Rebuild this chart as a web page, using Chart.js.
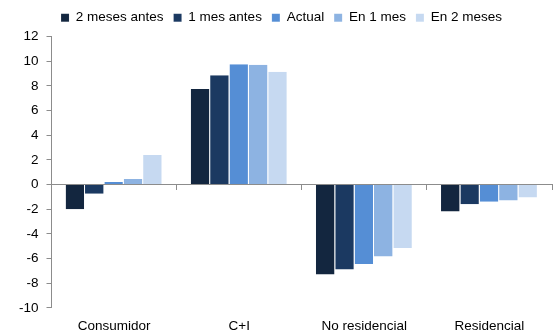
<!DOCTYPE html>
<html>
<head>
<meta charset="utf-8">
<script src="https://cdn.jsdelivr.net/npm/chart.js@4/dist/chart.umd.min.js"></script>
<style>
  html, body { margin: 0; padding: 0; background: #fff; }
  #wrap { width: 554px; height: 336px; }
</style>
</head>
<body>
<div id="wrap"><canvas id="c" width="554" height="336"></canvas></div>
<script>
// Categories and series
const categories = ['Consumidor', 'C+I', 'No residencial', 'Residencial'];
const seriesNames = ['2 meses antes', '1 mes antes', 'Actual', 'En 1 mes', 'En 2 meses'];
const dosMesesAntes = [-2.0, 7.75, -7.3, -2.2];
const unMesAntes    = [-0.75, 8.85, -6.9, -1.6];
const actual        = [0.2, 9.75, -6.45, -1.4];
const enUnMes       = [0.45, 9.7, -5.85, -1.3];
const enDosMeses    = [2.4, 9.15, -5.15, -1.05];
const yTicks = { min: -10, max: 12, step: 2 };

const seriesValues = [dosMesesAntes, unMesAntes, actual, enUnMes, enDosMeses];
const colors = ['#13263f', '#1b3961', '#558ed5', '#8db3e2', '#c6d9f1'];
const axisGray = '#8c8c8c';
const font = { family: '"Liberation Sans", Arial, sans-serif', size: 13.5 };

new Chart(document.getElementById('c'), {
  type: 'bar',
  data: {
    labels: categories,
    datasets: seriesNames.map((name, i) => ({
      label: name,
      data: seriesValues[i],
      backgroundColor: colors[i],
      borderColor: 'rgba(255,255,255,0.3)',
      borderWidth: { top: 0, bottom: 0, left: 0, right: 1 },
      xAxisID: 'x',
      yAxisID: 'y',
      barPercentage: 1,
      categoryPercentage: 0.774
    }))
  },
  options: {
    responsive: false,
    animation: false,
    devicePixelRatio: 1,
    layout: { padding: { left: 11, right: 2, top: 1, bottom: 2 } },
    plugins: {
      legend: {
        position: 'top',
        labels: {
          font: font,
          color: '#000',
          boxWidth: 8,
          boxHeight: 8,
          padding: 10
        }
      },
      tooltip: { enabled: false }
    },
    scales: {
      // small gap between legend and plot
      xTop: {
        type: 'category',
        labels: categories,
        position: 'top',
        grid: { display: false, drawTicks: false },
        border: { display: false },
        ticks: { display: false },
        afterFit: (s) => { s.height = 2; }
      },
      // category names along the bottom
      x: {
        type: 'category',
        position: 'bottom',
        grid: { display: false, drawTicks: false },
        border: { display: false },
        ticks: { font: font, color: '#000', padding: 10 },
        afterFit: (s) => { s.height -= 10; }
      },
      // zero line with category separator ticks
      x2: {
        type: 'category',
        labels: categories,
        position: { y: 0 },
        offset: true,
        grid: {
          offset: true,
          drawOnChartArea: false,
          drawTicks: true,
          tickLength: 5,
          color: axisGray
        },
        border: { display: true, color: axisGray, width: 1 },
        ticks: { display: false },
        afterFit: (s) => { s.height = 0; }
      },
      y: {
        min: yTicks.min,
        max: yTicks.max,
        ticks: { stepSize: yTicks.step, font: font, color: '#000', padding: 8 },
        grid: { drawOnChartArea: false, drawTicks: true, tickLength: 5, color: axisGray },
        border: { display: true, color: axisGray, width: 1 }
      }
    }
  }
});
</script>
</body>
</html>
